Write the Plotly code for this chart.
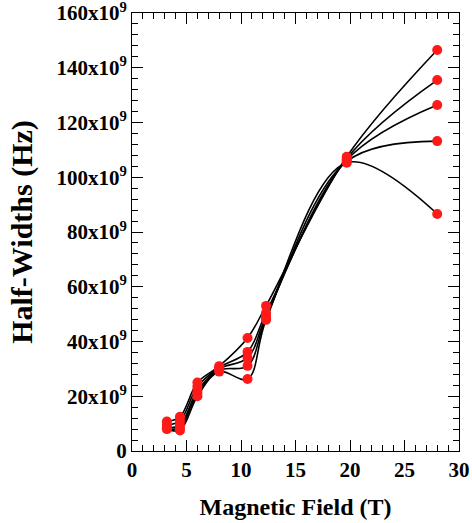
import plotly.graph_objects as go

field = [3.2, 4.4, 6.0, 8.0, 10.6, 12.3, 19.7, 28.0]
curve_a = [10.8, 12.5, 25.0, 31.0, 41.3, 53.0, 107.5, 146.5]
curve_b = [9.5, 11.0, 23.5, 30.5, 36.2, 50.5, 106.8, 135.5]
curve_c = [8.5, 9.5, 22.0, 30.0, 34.0, 49.3, 106.3, 126.4]
curve_d = [8.2, 8.5, 21.0, 29.5, 31.1, 48.5, 105.8, 113.2]
curve_e = [8.0, 7.5, 20.0, 29.0, 26.3, 47.9, 105.3, 86.6]
curves = [curve_a, curve_b, curve_c, curve_d, curve_e]

ytick_vals = [0, 20, 40, 60, 80, 100, 120, 140, 160]
ytick_text = ["0"] + [f"{v}x10<sup>9</sup>" for v in ytick_vals[1:]]
xtick_vals = [0, 5, 10, 15, 20, 25, 30]

fig = go.Figure()
for c in curves:
    fig.add_trace(go.Scatter(x=field, y=[v * 1e9 for v in c], mode="lines",
                             line=dict(color="black", width=1.6, shape="spline", smoothing=1.0),
                             showlegend=False, hoverinfo="skip"))
for c in curves:
    fig.add_trace(go.Scatter(x=field, y=[v * 1e9 for v in c], mode="markers",
                             marker=dict(color="#ff1a1a", size=10),
                             showlegend=False))

font = "Liberation Serif"
axis_common = dict(showline=True, linecolor="black", linewidth=1, mirror="ticks",
                   ticks="inside", ticklen=11, tickwidth=1, tickcolor="black",
                   showgrid=False, zeroline=False, automargin=False,
                   ticklabeloverflow="allow")
fig.update_xaxes(range=[0, 30], tickvals=xtick_vals,
                 minor=dict(ticks="inside", ticklen=6, dtick=1, tickcolor="black", showgrid=False),
                 tickfont=dict(family=font, size=21, color="black", weight="bold"),
                 title=dict(text="<b>Magnetic Field (T)</b>", font=dict(family=font, size=24, color="black"),
                            standoff=16),
                 **axis_common)
fig.update_yaxes(range=[0, 160e9], tickvals=[v * 1e9 for v in ytick_vals], ticktext=ytick_text,
                 minor=dict(ticks="inside", ticklen=6, dtick=4e9, tickcolor="black", showgrid=False),
                 tickfont=dict(family=font, size=21, color="black", weight="bold"),
                 title=dict(text="<b>Half-Widths (Hz)</b>", font=dict(family=font, size=30, color="black"),
                            standoff=14),
                 **axis_common)
fig.update_layout(width=472, height=523, margin=dict(l=132, r=13, t=13, b=72),
                  plot_bgcolor="white", paper_bgcolor="white")
fig.write_html("out.html", config={"displayModeBar": False},
               post_script="document.body.style.margin='0';")
